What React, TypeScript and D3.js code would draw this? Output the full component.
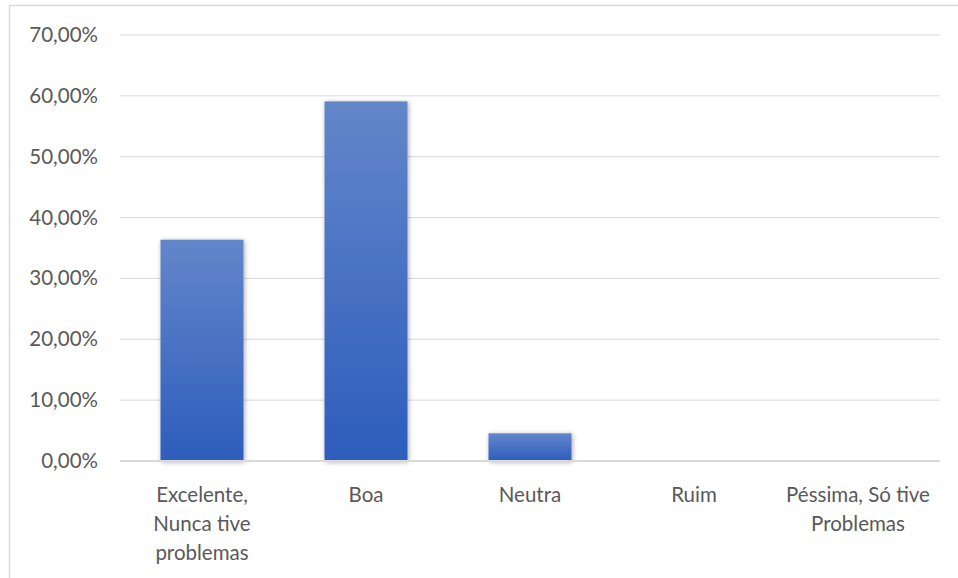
import React from "react";
import * as d3 from "d3";

const categories: string[][] = [
  ["Excelente,", "Nunca tive", "problemas"],
  ["Boa"],
  ["Neutra"],
  ["Ruim"],
  ["Péssima, Só tive", "Problemas"],
];
const values: number[] = [0.3636, 0.5909, 0.0455, 0, 0];
const yTicks: number[] = [0, 0.1, 0.2, 0.3, 0.4, 0.5, 0.6, 0.7];

const W = 958;
const H = 578;
const plot = { left: 120, right: 940, top: 35, bottom: 461 };
const font = "Lato, 'Open Sans', sans-serif";
const fontSize = 20.5;
const textColor = "#595959";

export default function App() {
  const x = d3
    .scaleBand<number>()
    .domain(categories.map((_, i) => i))
    .range([plot.left, plot.right])
    .paddingInner(0.494)
    .paddingOuter(0.247);
  const y = d3.scaleLinear().domain([0, 0.7]).range([plot.bottom, plot.top]);
  const fmt = (v: number) => (v * 100).toFixed(2).replace(".", ",") + "%";

  return (
    <svg
      width={W}
      height={H}
      style={{ position: "absolute", left: 0, top: 0, background: "#fff" }}
    >
      <defs>
        <linearGradient id="barFill" x1="0" y1="0" x2="0" y2="1">
          <stop offset="0%" stopColor="#6386ca" />
          <stop offset="100%" stopColor="#2d5dbc" />
        </linearGradient>
        <filter id="barShadow" x="-20%" y="-20%" width="140%" height="140%">
          <feDropShadow dx="1" dy="1" stdDeviation="2.5" floodColor="#000" floodOpacity="0.35" />
        </filter>
      </defs>
      {/* chart frame */}
      <rect x={9.5} y={5.5} width={1000} height={1000} fill="none" stroke="#d9d9d9" strokeWidth={1.5} />
      {/* gridlines and y labels */}
      {yTicks.map((t) => (
        <g key={t}>
          {t > 0 && (
            <line x1={plot.left} x2={plot.right} y1={y(t)} y2={y(t)} stroke="#d9d9d9" strokeWidth={1} />
          )}
          <text
            x={98}
            y={y(t) + 7}
            textAnchor="end"
            fontFamily={font}
            fontSize={fontSize}
            fill={textColor}
          >
            {fmt(t)}
          </text>
        </g>
      ))}
      {/* bars */}
      {values.map((v, i) =>
        v > 0 ? (
          <rect
            key={i}
            x={x(i)!}
            y={y(v)}
            width={x.bandwidth()}
            height={y(0) - y(v)}
            fill="url(#barFill)"
            filter="url(#barShadow)"
          />
        ) : null
      )}
      {/* baseline */}
      <line x1={plot.left} x2={plot.right} y1={y(0)} y2={y(0)} stroke="#d9d9d9" strokeWidth={2} />
      {/* category labels */}
      {categories.map((lines, i) => (
        <text
          key={i}
          textAnchor="middle"
          fontFamily={font}
          fontSize={fontSize}
          fill={textColor}
        >
          {lines.map((l, j) => (
            <tspan key={j} x={x(i)! + x.bandwidth() / 2} y={502 + j * 29}>
              {l}
            </tspan>
          ))}
        </text>
      ))}
    </svg>
  );
}
